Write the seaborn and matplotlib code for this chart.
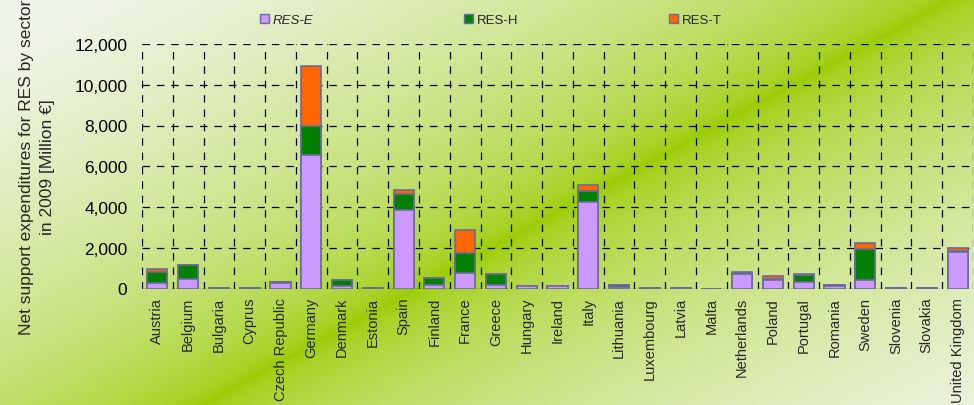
import numpy as np
import pandas as pd
import matplotlib
matplotlib.use("Agg")
import matplotlib.pyplot as plt
import seaborn as sns
from matplotlib.patches import Patch
from matplotlib.ticker import FuncFormatter, MultipleLocator

countries = ["Austria", "Belgium", "Bulgaria", "Cyprus", "Czech Republic", "Germany",
             "Denmark", "Estonia", "Spain", "Finland", "France", "Greece", "Hungary",
             "Ireland", "Italy", "Lithuania", "Luxembourg", "Latvia", "Malta",
             "Netherlands", "Poland", "Portugal", "Romania", "Sweden", "Slovenia",
             "Slovakia", "United Kingdom"]
res_e = [250, 450, 30, 25, 290, 6550, 130, 15, 3850, 150, 760, 160, 110,
         100, 4250, 50, 25, 20, 0, 700, 420, 340, 120, 430, 15, 30, 1800]
res_h = [560, 700, 10, 5, 40, 1430, 310, 5, 770, 370, 1000, 560, 20,
         20, 550, 120, 5, 10, 0, 80, 60, 330, 40, 1500, 5, 10, 60]
res_t = [150, 0, 0, 0, 0, 2920, 0, 0, 230, 0, 1110, 0, 0,
         0, 300, 0, 0, 0, 0, 20, 120, 30, 0, 300, 0, 0, 120]

df = pd.DataFrame({"country": countries, "E": res_e, "H": res_h, "T": res_t})
df["EH"] = df["E"] + df["H"]
df["EHT"] = df["EH"] + df["T"]

c_e, c_h, c_t = "#cc99ff", "#008000", "#ff6600"
edge = "#6b6b9e"

sns.set_style("white")
plt.rcParams["font.family"] = ["Liberation Sans", "DejaVu Sans"]

fig = plt.figure(figsize=(9.74, 4.06), dpi=100)

# background gradient
bg = fig.add_axes([0, 0, 1, 1], zorder=-10)
W, H = 974, 406
xx, yy = np.meshgrid(np.arange(W), np.arange(H))
d = np.abs(406 * xx + 750 * yy - 385700) / 853.0
t = np.clip(d / 400.0, 0, 1) ** 0.55
green = np.array([0.60, 0.80, 0.0])
light = np.array([0.94, 0.96, 0.91])
img = green + (light - green) * t[..., None]
bg.imshow(img, aspect="auto", extent=[0, 1, 0, 1], origin="upper")
bg.axis("off")

ax = fig.add_axes([142 / 974, 1 - 289.5 / 406, 831 / 974, 244.5 / 406])
ax.set_facecolor("none")

for col, c in [("EHT", c_t), ("EH", c_h), ("E", c_e)]:
    sns.barplot(data=df, x="country", y=col, color=c, width=0.65,
                edgecolor=edge, linewidth=1.2, saturation=1, ax=ax, zorder=3)

dash = (0, (6, 5.5))
ax.set_xlim(-0.5, len(countries) - 0.5)
ax.set_ylim(0, 12000)
ax.yaxis.set_major_locator(MultipleLocator(2000))
ax.yaxis.set_major_formatter(FuncFormatter(lambda v, p: f"{v:,.0f}"))
ax.set_xticks(np.arange(-0.5, len(countries)), minor=True)
ax.grid(True, axis="y", which="major", color="black", linestyle=dash, linewidth=0.9)
ax.grid(True, axis="x", which="minor", color="black", linestyle=dash, linewidth=0.9)
ax.grid(False, axis="x", which="major")
ax.set_axisbelow(True)
for s in ax.spines.values():
    s.set_visible(False)

ax.tick_params(axis="x", which="major", length=0, labelsize=10.5, rotation=90, pad=6)
ax.tick_params(axis="x", which="minor", length=4, width=0.9, color="black", direction="out")
ax.tick_params(axis="y", length=5, width=0.9, direction="inout", labelsize=12.5, colors="black", pad=8)
ax.set_xlabel("")
ax.set_ylabel("Net support expenditures for RES by sector\nin 2009 [Million \u20ac]",
              fontsize=12.5, labelpad=14, linespacing=1.5)

handles = [Patch(facecolor=c_e, edgecolor=edge), Patch(facecolor=c_h, edgecolor=edge),
           Patch(facecolor=c_t, edgecolor=edge)]
leg = fig.legend(handles, ["RES-E", "RES-H", "RES-T"], loc="center",
                 bbox_to_anchor=(491 / 974, 1 - 21 / 406), ncol=3, frameon=False,
                 fontsize=9.5, handlelength=0.7, handleheight=0.7, handletextpad=0.3,
                 columnspacing=11.4)
leg.get_texts()[0].set_fontstyle("italic")

fig.savefig("out.png", dpi=100)
